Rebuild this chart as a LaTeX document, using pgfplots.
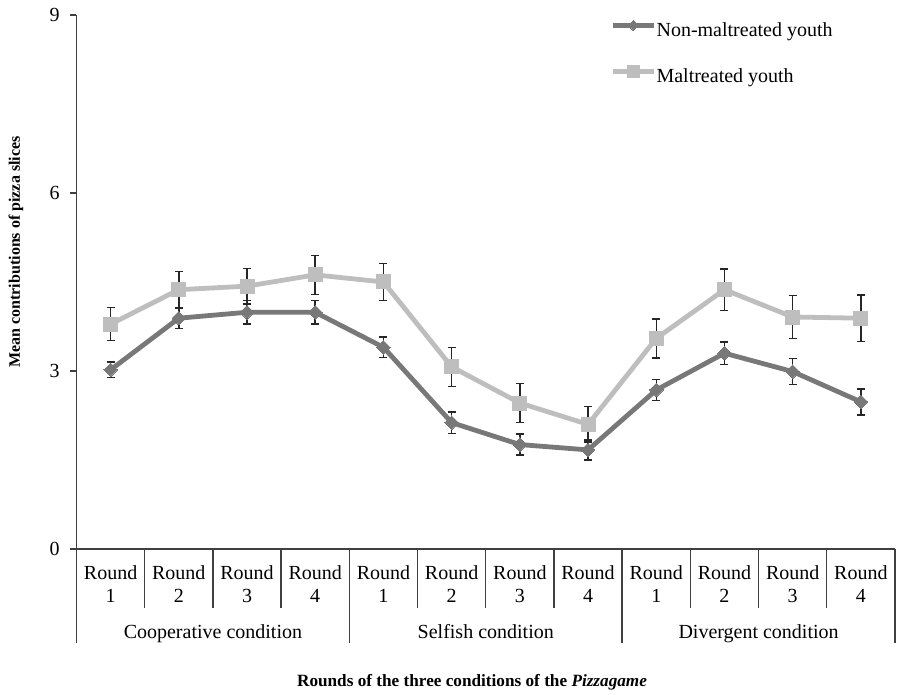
\documentclass[border=0pt]{standalone}
\usepackage{fontspec}
\setmainfont{Liberation Serif}
\usepackage{pgfplots}
\pgfplotsset{compat=1.18}
\definecolor{darkser}{HTML}{787878}
\definecolor{lightser}{HTML}{BEBEBE}
\definecolor{axisgray}{HTML}{404040}
\pgfplotsset{
  darkleg/.style={legend image code/.code={\draw[mark repeat=2, mark phase=2, ##1, mark size=1.8pt] plot coordinates {(0pt,3pt)(10.4pt,3pt)(20.8pt,3pt)};}},
  lightleg/.style={legend image code/.code={\draw[mark repeat=2, mark phase=2, ##1, mark size=3pt] plot coordinates {(0pt,3pt)(10.4pt,3pt)(20.8pt,3pt)};}},
}
\begin{document}
\begin{tikzpicture}
\begin{axis}[
  at={(0pt,0pt)}, anchor=south west,
  scale only axis,
  width=409.25pt, height=267pt,
  xmin=0.5, xmax=12.5, ymin=0, ymax=9,
  axis x line*=bottom, axis y line*=left,
  axis line style={axisgray, line width=0.75pt, -},
  xtick=\empty,
  ytick={0,3,6,9},
  tick align=outside,
  major tick length=3.25pt,
  tick style={axisgray, line width=0.75pt},
  yticklabel style={inner sep=0pt, xshift=-5pt, font=\fontsize{10}{12}\selectfont},
  /pgf/number format/assume math mode=true,
  clip=false,
  legend style={at={(axis description cs:0.652,0.99)}, anchor=north west,
    draw=none, fill=none, inner sep=0pt, outer sep=0pt,
    nodes={inner sep=0pt, text height=7pt, text depth=2pt},
    row sep=12.7pt, column sep=0pt,
    font=\fontsize{10}{12}\selectfont},
  legend cell align=left,
  error bars/y dir=both,
  error bars/y explicit,
  error bars/error mark options={rotate=90, mark size=2pt, line width=0.75pt, black!85},
  error bars/error bar style={line width=0.75pt, black!85},
]
\addplot[darkser, line width=2.4pt, mark=square*, mark size=2.4pt,
  mark options={rotate=45, fill=darkser, draw=darkser, line width=0pt}, darkleg]
coordinates {
(1,3.02) +- (0,0.13)
(2,3.89) +- (0,0.17)
(3,3.99) +- (0,0.20)
(4,3.99) +- (0,0.20)
(5,3.40) +- (0,0.17)
(6,2.13) +- (0,0.18)
(7,1.76) +- (0,0.18)
(8,1.67) +- (0,0.17)
(9,2.68) +- (0,0.18)
(10,3.30) +- (0,0.19)
(11,2.99) +- (0,0.22)
(12,2.48) +- (0,0.22)
};
\addlegendentry{Non-maltreated youth}
\addplot[lightser, line width=2.4pt, mark=square*, mark size=3.5pt,
  mark options={fill=lightser, draw=lightser, line width=0pt}, lightleg]
coordinates {
(1,3.79) +- (0,0.28)
(2,4.37) +- (0,0.31)
(3,4.43) +- (0,0.30)
(4,4.62) +- (0,0.33)
(5,4.50) +- (0,0.31)
(6,3.07) +- (0,0.33)
(7,2.46) +- (0,0.33)
(8,2.10) +- (0,0.30)
(9,3.55) +- (0,0.33)
(10,4.37) +- (0,0.35)
(11,3.91) +- (0,0.36)
(12,3.89) +- (0,0.39)
};
\addlegendentry{Maltreated youth}
% separators
\pgfplotsinvokeforeach{1.5,2.5,3.5,5.5,6.5,7.5,9.5,10.5,11.5}{
  \draw[axisgray, line width=0.65pt] (axis cs:#1,0) -- ++(0pt,-29.5pt);
}
\pgfplotsinvokeforeach{0.5,4.5,8.5,12.5}{
  \draw[axisgray, line width=0.75pt] (axis cs:#1,0) -- ++(0pt,-47pt);
}
% round labels
\pgfplotsinvokeforeach{1,5,9}{
  \node[anchor=base, inner sep=0pt, font=\fontsize{10}{12}\selectfont] at ([yshift=-15.5pt]axis cs:#1,0) {Round};
  \node[anchor=base, inner sep=0pt, font=\fontsize{10}{12}\selectfont] at ([yshift=-27pt]axis cs:#1,0) {1};
}
\pgfplotsinvokeforeach{2,6,10}{
  \node[anchor=base, inner sep=0pt, font=\fontsize{10}{12}\selectfont] at ([yshift=-15.5pt]axis cs:#1,0) {Round};
  \node[anchor=base, inner sep=0pt, font=\fontsize{10}{12}\selectfont] at ([yshift=-27pt]axis cs:#1,0) {2};
}
\pgfplotsinvokeforeach{3,7,11}{
  \node[anchor=base, inner sep=0pt, font=\fontsize{10}{12}\selectfont] at ([yshift=-15.5pt]axis cs:#1,0) {Round};
  \node[anchor=base, inner sep=0pt, font=\fontsize{10}{12}\selectfont] at ([yshift=-27pt]axis cs:#1,0) {3};
}
\pgfplotsinvokeforeach{4,8,12}{
  \node[anchor=base, inner sep=0pt, font=\fontsize{10}{12}\selectfont] at ([yshift=-15.5pt]axis cs:#1,0) {Round};
  \node[anchor=base, inner sep=0pt, font=\fontsize{10}{12}\selectfont] at ([yshift=-27pt]axis cs:#1,0) {4};
}
\node[anchor=base, inner sep=0pt, font=\fontsize{10}{12}\selectfont] at ([yshift=-45pt]axis cs:2.5,0) {Cooperative condition};
\node[anchor=base, inner sep=0pt, font=\fontsize{10}{12}\selectfont] at ([yshift=-45pt]axis cs:6.5,0) {Selfish condition};
\node[anchor=base, inner sep=0pt, font=\fontsize{10}{12}\selectfont] at ([yshift=-45pt]axis cs:10.5,0) {Divergent condition};
\end{axis}
\node[rotate=90, anchor=center, inner sep=0pt, font=\fontsize{8}{10}\selectfont\bfseries] at (-30.25pt,148.5pt) {Mean contributions of pizza slices};
\node[anchor=base west, inner sep=0pt, font=\fontsize{8.6}{10}\selectfont\bfseries] at (110.1pt,-68.85pt) {Rounds of the three conditions of the \textit{Pizzagame}};
\pgfresetboundingbox
\useasboundingbox (-38.25pt,-73pt) rectangle (412.25pt,274.5pt);
\end{tikzpicture}
\end{document}
